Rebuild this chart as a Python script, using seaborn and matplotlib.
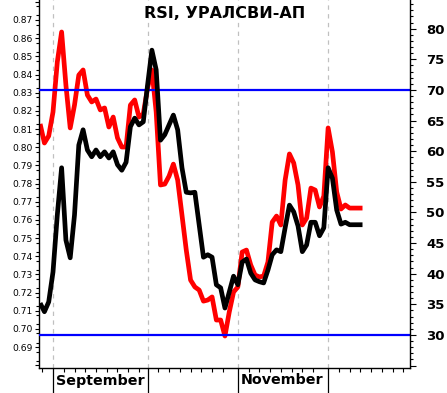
import numpy as np
import pandas as pd
import matplotlib
matplotlib.use("Agg")
import matplotlib.pyplot as plt
import matplotlib.transforms as mtransforms
from matplotlib.ticker import FixedLocator, FixedFormatter
import seaborn as sns

# ---------------- data ----------------
title = "RSI, УРАЛСВИ-АП"

price = [0.8128, 0.8023, 0.8062, 0.8194, 0.8469, 0.8634, 0.8342, 0.8106, 0.8232, 0.8397,
         0.8425, 0.8287, 0.8249, 0.8265, 0.8205, 0.8216, 0.8111, 0.8166, 0.8051, 0.8001,
         0.8001, 0.8232, 0.8260, 0.8166, 0.8183, 0.8326, 0.8425, 0.8194, 0.7792, 0.7797,
         0.7841, 0.7907, 0.7819, 0.7627, 0.7434, 0.7269, 0.7231, 0.7214, 0.7153, 0.7159,
         0.7176, 0.7049, 0.7049, 0.6961, 0.7093, 0.7203, 0.7231, 0.7423, 0.7434, 0.7352,
         0.7297, 0.7286, 0.7291, 0.7368, 0.7588, 0.7621, 0.7572, 0.7819, 0.7963, 0.7913,
         0.7792, 0.7572, 0.7610, 0.7775, 0.7764, 0.7671, 0.7731, 0.8106, 0.7974, 0.7753,
         0.7660, 0.7682, 0.7665, 0.7665, 0.7665, 0.7665]

rsi = [35.2, 33.8, 35.4, 40.3, 49.6, 57.3, 45.5, 42.6, 49.6, 61.0,
       63.5, 60.2, 59.1, 60.2, 59.1, 59.9, 58.9, 59.9, 57.8, 56.9,
       58.2, 64.0, 65.4, 64.3, 64.8, 70.8, 76.5, 73.3, 61.8, 62.7,
       64.3, 65.9, 63.5, 57.3, 53.3, 53.2, 53.3, 48.0, 42.7, 43.1,
       42.7, 38.2, 37.7, 34.4, 37.0, 39.6, 38.2, 41.9, 42.4, 40.1,
       39.0, 38.7, 38.5, 40.6, 43.1, 43.9, 43.6, 47.5, 51.2, 50.1,
       47.8, 43.6, 44.7, 48.4, 48.4, 46.2, 47.5, 57.3, 55.6, 50.4,
       48.1, 48.4, 48.0, 48.0, 48.0, 48.0]

month_names = ["September", "October", "November", "December"]
month_start_day = [3, 25, 46, 67]          # trading-day index of first day of month
month_label_shown = [True, False, True, False]

price_ticks = [0.68, 0.69, 0.70, 0.71, 0.72, 0.73, 0.74, 0.75, 0.76, 0.77, 0.78,
               0.79, 0.80, 0.81, 0.82, 0.83, 0.84, 0.85, 0.86, 0.87, 0.88]
price_labels = [""] + ["%.2f" % v for v in price_ticks[1:-1]] + [""]
rsi_ticks = [25, 30, 35, 40, 45, 50, 55, 60, 65, 70, 75, 80]
rsi_labels = [""] + [str(v) for v in rsi_ticks[1:]]
rsi_levels = [30, 70]

# ---------------- style ----------------
sns.set_style("ticks")
plt.rcParams["font.family"] = ["DejaVu Sans"]
plt.rcParams["text.color"] = "black"
plt.rcParams["xtick.color"] = "black"
plt.rcParams["ytick.color"] = "black"
plt.rcParams["axes.labelcolor"] = "black"

W, H = 447, 393
fig = plt.figure(figsize=(W / 100, H / 100), dpi=100)
ax_left, ax_right, ax_bottom, ax_top = 39, 410, 368, 0
ax = fig.add_axes([ax_left / W, (H - ax_bottom) / H,
                   (ax_right - ax_left) / W, (ax_bottom - ax_top) / H])
ax2 = ax.twinx()

df = pd.DataFrame({"day": np.arange(len(price)), "price": price, "rsi": rsi})

# month separators (dashed grid)
for d in month_start_day:
    ax.axvline(d, color="#c0c0c0", lw=0.9, ls=(0, (3.5, 3.5)), zorder=0)

sns.lineplot(data=df, x="day", y="price", ax=ax, color="#ff0000",
             linewidth=3.4, zorder=2, solid_joinstyle="round",
             solid_capstyle="butt")
for lv in rsi_levels:
    ax2.axhline(lv, color="#0000ff", lw=1.6, zorder=1)
sns.lineplot(data=df, x="day", y="rsi", ax=ax2, color="black",
             linewidth=3.4, zorder=3, solid_joinstyle="round",
             solid_capstyle="butt")

ax.set_xlim(-0.26, 86.05)
ax.set_ylim(0.6785, 0.881)
ax2.set_ylim(24.61, 84.69)

for a in (ax, ax2):
    a.set_xlabel("")
    a.set_ylabel("")
    a.spines["top"].set_visible(False)
ax.spines["right"].set_visible(False)
ax2.spines["left"].set_visible(False)
ax2.spines["bottom"].set_visible(False)
for a in (ax, ax2):
    for s in a.spines.values():
        s.set_color("black")
        s.set_linewidth(1.0)

# left axis ticks
ax.yaxis.set_major_locator(FixedLocator(price_ticks))
ax.yaxis.set_major_formatter(FixedFormatter(price_labels))
ax.yaxis.set_minor_locator(FixedLocator(np.arange(0.6775, 0.881, 0.005)))
ax.tick_params(axis="y", which="major", direction="out", length=3.2, width=0.8,
               labelsize=6.6, pad=1.6, colors="black")
ax.tick_params(axis="y", which="minor", direction="out", length=2.0, width=0.8,
               colors="black")

# right axis ticks
ax2.yaxis.set_major_locator(FixedLocator(rsi_ticks))
ax2.yaxis.set_major_formatter(FixedFormatter(rsi_labels))
ax2.yaxis.set_minor_locator(FixedLocator(np.arange(25, 85, 1)))
ax2.tick_params(axis="y", which="major", direction="out", length=4.0, width=0.8,
                labelsize=9.5, pad=7.5, colors="black")
ax2.tick_params(axis="y", which="minor", direction="out", length=2.2, width=0.8,
                colors="black")
for t in ax2.get_yticklabels():
    t.set_fontweight("bold")

# x axis: long ticks at month starts, short ticks in between
bounds = list(month_start_day) + [86.05]
minor = [month_start_day[0] - 2.5]
for b0, b1 in zip(bounds[:-1], bounds[1:]):
    t = b0 + 2.5
    while t < b1 - 1.2:
        minor.append(t)
        t += 2.5
ax.xaxis.set_major_locator(FixedLocator(month_start_day))
ax.xaxis.set_major_formatter(FixedFormatter([""] * len(month_start_day)))
ax.xaxis.set_minor_locator(FixedLocator(minor))
ax.tick_params(axis="x", which="major", direction="out", length=18, width=0.9,
               colors="black")
ax.tick_params(axis="x", which="minor", direction="out", length=3.0, width=0.8,
               colors="black")
ax2.tick_params(axis="x", which="both", length=0)

trans = mtransforms.blended_transform_factory(ax.transData, ax.transAxes)
for d, name, show in zip(month_start_day, month_names, month_label_shown):
    if show:
        ax.annotate(name, xy=(d, 0), xycoords=trans, xytext=(2.2, -9),
                    textcoords="offset points", ha="left", va="center",
                    fontsize=10.3, fontweight="bold", color="black",
                    annotation_clip=False)

ax.text(0.5, 1 - 14 / (ax_bottom - ax_top), title, transform=ax.transAxes,
        ha="center", va="center", fontsize=11.5, fontweight="bold",
        color="black")

ax.set_zorder(1)
ax2.set_zorder(2)
ax2.patch.set_visible(False)

fig.savefig("out.png", dpi=100, facecolor="white")
